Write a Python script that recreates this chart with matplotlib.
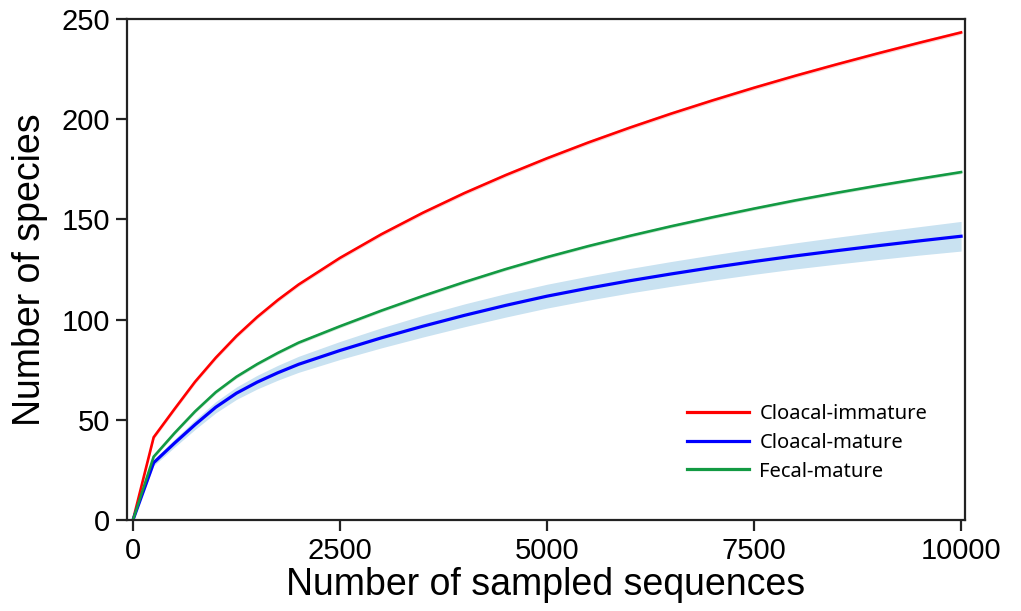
"""
Rarefaction curves - species richness vs sampling depth
"""
import matplotlib
matplotlib.use("Agg")
import matplotlib.pyplot as plt

# Sampling depth (number of sequences)
depth = [0, 250, 500, 750, 1000, 1250, 1500, 1750, 2000,
         2500, 3000, 3500, 4000, 4500, 5000, 5500, 6000,
         6500, 7000, 7500, 8000, 8500, 9000, 9500, 10000]

# Mean observed species per group
cloacal_immature = [0, 41.3, 55.3, 69.0, 81.0, 91.8, 101.3, 109.8, 117.5,
                    130.8, 142.6, 153.3, 163.1, 172.1, 180.5, 188.4, 195.8,
                    202.8, 209.4, 215.7, 221.7, 227.4, 232.9, 238.2, 243.3]
cloacal_mature = [0, 28.6, 38.3, 47.6, 56.3, 63.3, 68.8, 73.5, 77.7,
                  84.6, 90.9, 96.7, 102.1, 107.1, 111.7, 115.7, 119.4,
                  122.8, 126.0, 129.0, 131.8, 134.4, 136.9, 139.3, 141.6]
fecal_mature = [0, 31.6, 43.3, 54.2, 63.8, 71.5, 77.8, 83.4, 88.5,
                96.7, 104.5, 111.8, 118.7, 125.2, 131.2, 136.7, 141.8,
                146.6, 151.1, 155.4, 159.5, 163.3, 166.9, 170.3, 173.6]

# Spread (+/-) around the cloacal-mature curve
cloacal_mature_err = [0, 1.5, 2, 2.4, 2.8, 3.1, 3.4, 3.7, 4,
                      4.5, 5, 5.4, 5.7, 5.85, 5.95, 6.0, 6.1,
                      6.2, 6.3, 6.4, 6.5, 6.7, 6.9, 7.1, 7.4]

fig = plt.figure(figsize=(10.21, 6.11), dpi=100)
ax = fig.add_axes([0.1244, 0.1489, 0.8208, 0.82])

# Confidence bands
lo = [m - e for m, e in zip(cloacal_mature, cloacal_mature_err)]
hi = [m + e for m, e in zip(cloacal_mature, cloacal_mature_err)]
ax.fill_between(depth, lo, hi, color="#c9e2f1", linewidth=0)
ax.fill_between(depth, [v - 1 for v in cloacal_immature], [v + 1 for v in cloacal_immature],
                color="#fbd6d6", linewidth=0)
ax.fill_between(depth, [v - 0.8 for v in fecal_mature], [v + 0.8 for v in fecal_mature],
                color="#cfe8d6", linewidth=0)

# Curves
ax.plot(depth, cloacal_immature, color="#ff0000", lw=1.9, label="Cloacal-immature")
ax.plot(depth, cloacal_mature, color="#0000ff", lw=2.3, label="Cloacal-mature")
ax.plot(depth, fecal_mature, color="#139a43", lw=1.9, label="Fecal-mature")

ax.set_xlim(-72, 10048)
ax.set_ylim(0, 250)
ax.set_xticks([0, 2500, 5000, 7500, 10000])
ax.set_yticks([0, 50, 100, 150, 200, 250])

for s in ax.spines.values():
    s.set_linewidth(1.6)
    s.set_color("#222222")
ax.tick_params(axis="both", direction="out", length=8, width=1.6, labelsize=21,
               color="#222222", pad=4)
for lab in ax.get_xticklabels() + ax.get_yticklabels():
    lab.set_fontfamily("Liberation Sans")

ax.set_xlabel("Number of sampled sequences", fontsize=27, family="Liberation Sans", labelpad=2)
ax.set_ylabel("Number of species", fontsize=27, family="Liberation Sans", labelpad=10)

leg = ax.legend(loc="upper left", bbox_to_anchor=(0.668, 0.232), frameon=False,
                prop={"family": "Noto Sans", "size": 14.5}, handlelength=3.1,
                handletextpad=0.5, labelspacing=0.44, borderpad=0, borderaxespad=0)
for h in leg.get_lines():
    h.set_linewidth(2.3)

fig.savefig("out.png", dpi=100)
plt.close(fig)
